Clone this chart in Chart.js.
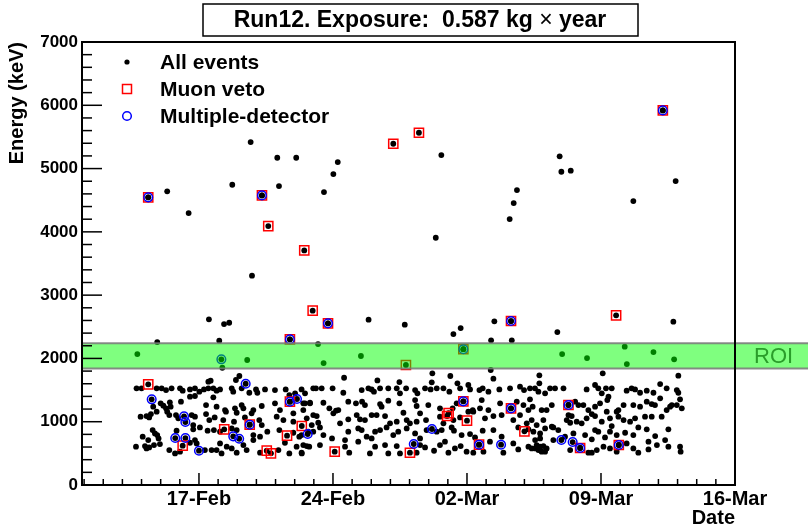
<!DOCTYPE html>
<html><head><meta charset="utf-8">
<script src="https://cdn.jsdelivr.net/npm/chart.js@4.4.1/dist/chart.umd.min.js"></script>
<style>html,body{margin:0;padding:0;background:#fff}#wrap{width:808px;height:530px;position:relative}</style>
</head><body><div id="wrap"><canvas id="c" width="808" height="530"></canvas></div>
<script>
// x values: days relative to 17-Feb 00:00 ; y values: energy in keV
const dateTickDays = [0, 7, 14, 21, 28];
const dateTickLabels = ['17-Feb', '24-Feb', '02-Mar', '09-Mar', '16-Mar'];
const dayRange = [-6.11, 28];
const energyRange = [0, 7000];
const roiRange = [1840, 2240];

// sparse events above the continuum
const highDays = [-1.66,-0.54,2.70,1.74,4.09,5.08,4.18,2.77,7.25,7.02, 6.53,0.52,1.31,1.58,-2.18,1.06,6.22,12.66,12.37,18.84,
  18.93,19.42,16.61,16.44,16.23,24.90,22.69,8.86,10.75,13.29, 13.67,15.43,15.26,16.34,18.72,24.78,22.24,-3.22,2.52,1.22,
  8.46,6.51,12.19,13.13,15.24,15.38,18.97,20.27,22.35,23.74, 24.82,21.09,17.78,25.04];
const highEnergy = [4640,4297,5419,4744,5171,5171,4724,3307,5103,4913, 4629,2618,2543,2564,2259,2280,2227,5213,3907,5193,
  4950,4966,4660,4455,4202,4802,4487,2612,2533,2385, 2480,2586,2286,2286,2417,2580,2185,2069,1975,1853,
  2038,1927,1765,1722,1817,1680,2069,2006,1911,2101, 1986,1765,1733,1727];

// continuum, first period (before ~23-Feb)
const febDays = [0.49,0.61,1.93,2.11,-3.26,-3.00,-2.21,-1.95,-1.72,-1.43,-0.99,-0.85,-0.47,-0.21,0.02,0.26,0.49,0.75,0.92,1.10,1.71,1.79,2.23,2.63,2.98,3.05,3.45,3.97,4.53,4.72,5.02,5.54,
  -2.00,-1.86,-1.52,-0.94,-0.47,-0.21,0.37,0.75,0.92,1.36,1.88,2.23,2.32,2.75,2.84,3.28,3.97,4.23,4.93,5.45,5.80,-2.21,-1.66,-1.72,-1.48,-2.39,
  -3.05,-2.74,-2.60,-2.51,-1.55,-1.20,-1.08,-0.38,-0.21,-0.30,0.37,0.54,0.82,1.27,1.41,1.83,1.97,2.40,3.15,3.28,4.06,4.41,4.93,5.63,
  -2.94,-2.42,-2.30,-2.18,-2.11,-2.65,-1.17,-0.30,0.05,0.45,0.78,1.10,1.71,1.97,2.84,3.19,3.57,4.20,4.93,5.24,5.71,
  -3.29,-2.82,-2.74,-2.60,-2.35,-2.04,-1.55,-1.25,-0.99,-0.47,-0.21,-0.12,0.31,0.66,0.92,1.10,1.18,1.45,1.71,1.97,2.32,2.49,2.84,3.19,4.15,4.49,4.72,5.10,5.37,5.63];
const febEnergy = [1632,1648,1659,1722,1527,1527,1527,1527,1500,1527,1527,1490,1511,1527,1474,1511,1527,1527,1490,1511,1527,1474,1527,1458,1511,1458,1511,1500,1511,1421,1448,1448,
  1290,1253,1306,1316,1395,1406,1263,1385,1237,1184,1211,1263,1211,1132,1184,1248,1290,1184,1132,1290,1290,1158,1158,1211,1237,1237,
  1079,1089,1068,1121,1105,1105,1053,1105,1079,947,1121,1026,1068,1026,1158,1000,1142,1068,1026,947,1079,1026,1000,1053,
  763,868,815,789,736,710,858,879,910,858,868,842,894,868,789,763,842,868,826,763,842,
  605,615,578,594,631,647,552,499,526,668,710,657,552,552,552,657,499,605,578,510,631,552,710,510,552,668,499,605,499,615];

// continuum, second period (~23-Feb to ~6-Mar)
const marDays = [7.58,9.32,10.47,12.16,13.50,5.36,5.97,6.11,6.41,6.98,7.54,8.50,8.85,9.02,9.14,9.46,9.89,10.33,10.50,10.82,11.29,11.41,11.81,12.10,12.42,12.77,13.08,13.64,14.07,14.16,14.65,14.82,15.12,15.69,16.25,16.77,16.98,17.29,
  5.54,5.80,6.50,6.81,7.28,7.80,8.20,8.52,8.67,9.46,9.54,9.89,10.47,10.68,11.29,11.37,11.98,12.59,13.25,13.46,14.07,14.30,14.68,14.77,15.12,15.73,16.60,16.95,17.21,5.45,5.97,6.15,
  7.02,7.16,7.37,7.80,8.24,8.41,8.67,9.02,9.28,9.72,9.98,10.33,10.85,11.02,11.37,11.55,11.86,12.59,12.77,13.29,13.64,14.33,14.94,15.38,15.81,16.42,16.77,17.12,5.89,6.23,6.32,
  6.50,6.95,7.63,7.80,8.32,8.50,8.76,9.02,9.20,9.46,9.80,10.15,10.41,10.85,11.29,11.55,11.89,12.42,12.68,13.20,13.32,13.72,14.16,14.42,14.82,15.38,15.81,16.68,17.21,5.36,5.97,
  5.45,5.76,5.36,6.32,7.63,7.85,8.32,8.93,9.20,9.72,9.89,10.33,10.50,11.37,11.55,11.81,12.28,12.59,12.85,13.03,13.37,13.67,13.98,14.33,14.86,15.20,15.90,16.42,16.68,17.21];
const marEnergy = [1695,1653,1627,1622,1606,1511,1527,1527,1527,1527,1458,1500,1527,1511,1474,1527,1527,1527,1448,1527,1500,1448,1527,1511,1527,1527,1474,1527,1580,1511,1500,1527,1474,1511,1527,1553,1500,1527,
  1290,1300,1300,1211,1184,1316,1290,1316,1263,1279,1237,1332,1290,1142,1342,1248,1263,1211,1211,1290,1158,1184,1211,1342,1184,1290,1316,1263,1184,1184,1105,1089,
  1132,1174,974,1037,1105,1037,1026,1105,1105,1089,974,1000,1026,974,1000,1132,1026,1079,974,1026,1068,1158,1053,1089,1105,1026,1105,974,947,984,910,
  789,736,710,842,894,868,763,736,842,868,910,789,842,894,815,736,868,842,868,910,858,789,805,752,858,868,763,910,879,789,842,
  631,605,510,631,605,510,684,499,605,631,499,615,499,510,631,594,541,631,684,510,578,615,526,510,526,684,510,657,562,605];

// continuum, third period (~6-Mar onwards)
const lateDays = [17.78,17.55,17.73,18.08,18.34,18.60,19.04,20.25,20.69,20.86,21.04,21.26,21.56,22.34,22.60,22.78,23.04,23.39,23.74,24.09,24.43,24.96,25.04,25.13,24.09,
  17.29,17.43,17.90,18.16,18.43,19.65,19.82,20.08,20.34,20.69,20.95,21.33,21.39,21.82,21.91,22.18,22.69,23.04,23.39,23.65,23.82,24.43,24.61,24.70,24.96,25.22,21.30,20.52,19.30,19.47,
  17.38,17.64,17.99,18.43,19.21,19.39,19.73,19.99,20.25,20.69,21.04,21.47,21.91,22.18,22.52,22.78,23.30,23.65,24.17,24.52,22.95,23.39,21.56,
  17.47,17.82,18.08,18.51,18.77,19.12,19.56,20.17,20.52,20.69,20.86,21.21,21.47,21.82,22.26,22.69,23.48,23.83,24.35,17.82,17.56,18.51,
  17.38,17.56,17.82,17.99,18.08,18.16,19.39,20.34,20.52,20.78,21.13,21.47,21.82,22.34,22.69,22.95,23.48,23.92,24.52,25.13,25.16,17.64,17.73,17.90];
const lateEnergy = [1606,1527,1474,1448,1527,1527,1527,1511,1580,1527,1448,1527,1527,1490,1527,1511,1458,1490,1458,1595,1527,1500,1458,1353,1369,
  1353,1237,1184,1184,1263,1316,1263,1263,1184,1237,1290,1342,1395,1158,1184,1263,1263,1237,1316,1279,1263,1184,1237,1263,1263,1211,1158,1121,1105,1089,
  1026,947,1026,921,1026,984,1000,974,1053,1089,1000,1053,1079,1026,1000,1053,1079,1079,1079,879,910,879,931,
  842,815,894,910,868,763,815,789,721,868,842,752,842,789,826,789,684,773,710,736,710,710,
  578,578,605,615,526,578,552,510,510,552,605,578,526,657,578,510,562,631,605,605,526,631,552,526];

// tagged events
const muonDays = [-2.65,3.29,3.62,5.50,5.94,6.74,4.75,10.15,11.49,24.23, 16.30,21.79,13.81,10.81,-2.65,4.75,-0.85,1.32,2.65,3.54,
  3.76,4.60,5.37,7.09,11.02,13.04,12.96,13.81,14.00,14.63, 16.30,17.00,19.30,19.91,21.93];
const muonEnergy = [4545,4576,4092,3707,2754,2554,2302,5392,5566,5919, 2591,2681,2146,1896,1591,1316,621,880,953,542,
  500,779,932,526,510,1137,1090,1322,1016,637, 1211,848,1264,585,632];
const multiDays = [-2.65,3.29,6.74,4.75,24.23,16.30,13.81,4.75,2.65,13.81, 14.63,16.30,19.30,19.91,21.93,1.17,2.44,-2.47,5.12,-0.78,
  -0.71,-1.24,-0.71,0.00,1.79,2.10,5.68,11.22,12.17,15.78, 18.93,19.52];
const multiEnergy = [4545,4576,2554,2302,5919,2591,2146,1316,953,1322, 637,1211,1264,585,632,1986,1600,1354,1359,1085,
  995,742,742,542,769,731,806,648,885,637, 711,679];

function pts(xs, ys){ return xs.map((d,i)=>({x:d, y:ys[i]})); }
const allPoints = [].concat(pts(highDays,highEnergy), pts(febDays,febEnergy), pts(marDays,marEnergy),
  pts(lateDays,lateEnergy), pts(muonDays,muonEnergy), pts(multiDays,multiEnergy));

const FONT = "'Liberation Sans', Arial, Helvetica, sans-serif";

const rootDecor = {
  id: 'rootDecor',
  afterDatasetsDraw(chart){
    const {ctx, chartArea:a, scales:{x, y}} = chart;
    const line=(x1,y1,x2,y2)=>{ctx.beginPath();ctx.moveTo(x1,y1);ctx.lineTo(x2,y2);ctx.stroke();};
    ctx.save();
    // ROI band
    const yt = y.getPixelForValue(roiRange[1]), yb = y.getPixelForValue(roiRange[0]);
    ctx.fillStyle = 'rgba(0,255,0,0.5)';
    ctx.fillRect(a.left, yt, chart.width - a.left, yb - yt);
    ctx.strokeStyle = 'rgba(120,120,120,0.85)'; ctx.lineWidth = 2;
    line(a.left, yt, chart.width, yt); line(a.left, yb, chart.width, yb);
    ctx.fillStyle = '#2a9d2a'; ctx.font = '22px ' + FONT; ctx.textBaseline='middle'; ctx.textAlign='left';
    ctx.fillText('ROI', 754, (yt+yb)/2 + 1);
    // frame
    ctx.strokeStyle = '#000'; ctx.lineWidth = 2;
    ctx.strokeRect(a.left, a.top, a.right - a.left, a.bottom - a.top);
    ctx.lineWidth = 1.5;
    for (let v = energyRange[0]; v <= energyRange[1]; v += 200) {
      const py = y.getPixelForValue(v);
      line(a.left, py, a.left + (v % 1000 === 0 ? 20 : 10), py);
    }
    for (let d = Math.ceil(x.min); d <= x.max; d++) {
      const px = x.getPixelForValue(d);
      line(px, a.bottom, px, a.bottom - (dateTickDays.includes(d) ? 12 : 6));
    }
    // title box
    ctx.fillStyle = '#fff'; ctx.fillRect(203, 4, 435, 32);
    ctx.strokeStyle = '#000'; ctx.lineWidth = 1.5; ctx.strokeRect(203, 4, 435, 32);
    const p1 = 'Run12. Exposure:  0.587 kg ', p2 = '\u00d7', p3 = ' year';
    const fb = 'bold 23px ' + FONT, fn = '23px ' + FONT;
    ctx.font = fb; const w1 = ctx.measureText(p1).width, w3 = ctx.measureText(p3).width;
    ctx.font = fn; const w2 = ctx.measureText(p2).width;
    let tx = 420 - (w1 + w2 + w3) / 2; const ty = 21;
    ctx.fillStyle = '#000'; ctx.textBaseline = 'middle'; ctx.textAlign = 'left';
    ctx.font = fb; ctx.fillText(p1, tx, ty); tx += w1;
    ctx.font = fn; ctx.fillText(p2, tx, ty); tx += w2;
    ctx.font = fb; ctx.fillText(p3, tx, ty);
    // legend
    const lx = 127, ly = [62, 89, 116];
    ctx.fillStyle = '#000'; ctx.beginPath(); ctx.arc(lx, ly[0], 2.6, 0, Math.PI*2); ctx.fill();
    ctx.strokeStyle = '#ff0000'; ctx.lineWidth = 1.5; ctx.strokeRect(lx - 4.5, ly[1] - 4.5, 9, 9);
    ctx.strokeStyle = '#0000ff'; ctx.beginPath(); ctx.arc(lx, ly[2], 4.3, 0, Math.PI*2); ctx.stroke();
    ctx.fillStyle = '#000'; ctx.font = 'bold 21px ' + FONT;
    ['All events', 'Muon veto', 'Multiple-detector'].forEach((t, i) => ctx.fillText(t, 160, ly[i] + 1));
    ctx.restore();
  }
};

new Chart(document.getElementById('c'), {
  type: 'scatter',
  data: { datasets: [
    { label: 'Multiple-detector', data: pts(multiDays, multiEnergy), pointStyle: 'circle', pointRadius: 4.3,
      borderColor: '#0000ff', backgroundColor: 'rgba(0,0,0,0)', borderWidth: 1.5, order: 1 },
    { label: 'Muon veto', data: pts(muonDays, muonEnergy), pointStyle: 'rect', pointRadius: 6.5,
      borderColor: '#ff0000', backgroundColor: 'rgba(0,0,0,0)', borderWidth: 1.5, order: 2 },
    { label: 'All events', data: allPoints, pointStyle: 'circle', pointRadius: 2.9,
      backgroundColor: '#000', borderColor: '#000', borderWidth: 0, order: 3 }
  ]},
  options: {
    responsive: false, animation: false, events: [],
    layout: { padding: { top: 42, right: 73, left: 0, bottom: 0 } },
    plugins: { legend: { display: false }, tooltip: { enabled: false } },
    scales: {
      x: {
        type: 'linear', min: dayRange[0], max: dayRange[1],
        grid: { display: false, drawTicks: false }, border: { display: false },
        afterBuildTicks: s => { s.ticks = dateTickDays.map(v => ({ value: v })); },
        ticks: { autoSkip: false, maxRotation: 0, padding: 2, color: '#000',
          font: { family: FONT, weight: 'bold', size: 20 },
          callback: v => dateTickLabels[dateTickDays.indexOf(v)] },
        title: { display: true, text: 'Date', align: 'end', color: '#000', padding: 0,
          font: { family: FONT, weight: 'bold', size: 20 } },
        afterFit: s => { s.height = 45; s.paddingLeft = 0; s.paddingRight = 0; }
      },
      y: {
        min: energyRange[0], max: energyRange[1],
        grid: { display: false, drawTicks: false }, border: { display: false },
        ticks: { stepSize: 1000, padding: 4, color: '#000', font: { family: FONT, weight: 'bold', size: 17 },
          callback: v => String(v) },
        title: { display: true, text: 'Energy (keV)', align: 'end', color: '#000', padding: { top: 5, bottom: 0 },
          font: { family: FONT, weight: 'bold', size: 20 } },
        afterFit: s => { s.width = 82; s.paddingTop = 0; s.paddingBottom = 0; }
      }
    }
  },
  plugins: [rootDecor]
});
</script></body></html>
